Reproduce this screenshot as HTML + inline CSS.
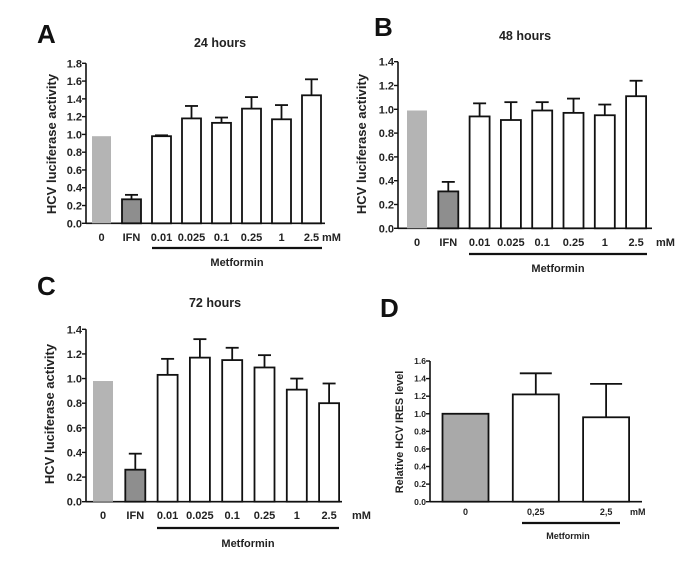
<!DOCTYPE html>
<html><head><meta charset="utf-8"><style>
html,body{margin:0;padding:0;background:#fff;}
svg{display:block;font-family:"Liberation Sans",Arial,sans-serif;}
</style></head><body>
<svg id="fig" width="691" height="562" viewBox="0 0 691 562"></svg>
<script>
// Panel A (24 hours)
const catsABC = ["0","IFN","0.01","0.025","0.1","0.25","1","2.5"];
const valsA = [0.98,0.27,0.98,1.18,1.13,1.29,1.17,1.44];
const errA  = [0,0.05,0.01,0.14,0.06,0.13,0.16,0.18];
const ticksA = ["0.0","0.2","0.4","0.6","0.8","1.0","1.2","1.4","1.6","1.8"];
// Panel B (48 hours)
const valsB = [0.99,0.31,0.94,0.91,0.99,0.97,0.95,1.11];
const errB  = [0,0.08,0.11,0.15,0.07,0.12,0.09,0.13];
const ticksB = ["0.0","0.2","0.4","0.6","0.8","1.0","1.2","1.4"];
// Panel C (72 hours)
const valsC = [0.98,0.26,1.03,1.17,1.15,1.09,0.91,0.80];
const errC  = [0,0.13,0.13,0.15,0.10,0.10,0.09,0.16];
const ticksC = ["0.0","0.2","0.4","0.6","0.8","1.0","1.2","1.4"];
// Panel D (IRES)
const catsD = ["0","0,25","2,5"];
const valsD = [1.0,1.22,0.96];
const errD  = [0,0.24,0.38];
const ticksD = ["0.0","0.2","0.4","0.6","0.8","1.0","1.2","1.4","1.6"];

const NS="http://www.w3.org/2000/svg";
const svg=document.getElementById('fig');
function mk(tag,attrs,parent,text){const e=document.createElementNS(NS,tag);for(const k in attrs)e.setAttribute(k,attrs[k]);if(text!==undefined)e.textContent=text;(parent||svg).appendChild(e);return e;}

function panel(o){
  const g=mk('g',{});
  
  
  const ymax=parseFloat(o.ticks[o.ticks.length-1]);
  const y=v=>o.y0-(v/ymax)*(o.y0-o.yTop);
  const x=i=>o.x0c+o.step*i;
  const L=mk('text',{x:o.letter[0],y:o.letter[1],'font-size':26,'font-weight':'bold',fill:'#111'},g,o.letterText);
  
  
  if(o.title){const t=mk('text',{x:o.title[0],y:o.title[1],'font-size':12.5,'font-weight':'bold','text-anchor':'middle',fill:'#222'},g,o.titleText);
    
    }
  const ya=mk('line',{x1:o.ax,y1:o.yTop,x2:o.ax,y2:o.y0,stroke:'#111','stroke-width':1.6},g);
  
  
  const xa=mk('line',{x1:o.ax,y1:o.y0,x2:o.axEnd,y2:o.y0,stroke:'#111','stroke-width':1.6},g);
  
  
  o.ticks.forEach(t=>{const v=parseFloat(t);const yy=y(v);
    mk('line',{x1:o.ax-4,y1:yy,x2:o.ax,y2:yy,stroke:'#111','stroke-width':1.4},g);
    const tl=mk('text',{x:o.ax-4,y:yy+o.tf*0.36,'font-size':o.tf,'font-weight':'bold','text-anchor':'end',fill:'#222'},g,t);
    
    
  });
  const yt=mk('text',{x:0,y:0,'font-size':o.yf,'font-weight':'bold','text-anchor':'middle',fill:'#222',transform:`translate(${o.ytx},${o.yty}) rotate(-90)`},g,o.ytitle);
  
  
  o.vals.forEach((v,i)=>{
    const cx=x(i),w=o.bw,top=y(v);
    let fill='#fff',stroke='#111';
    if(o.fills) {fill=o.fills[i];}
    if(o.noStroke && o.noStroke[i]) stroke='none';
    if(o.err[i]>0){
      const et=y(v+o.err[i]);
      mk('line',{x1:cx,y1:top,x2:cx,y2:et,stroke:'#111','stroke-width':1.8},g);
      mk('line',{x1:cx-o.cap/2,y1:et,x2:cx+o.cap/2,y2:et,stroke:'#111','stroke-width':1.8},g);
    }
    const r=mk('rect',{x:cx-w/2,y:top,width:w,height:o.y0-top,fill:fill,stroke:stroke,'stroke-width':stroke==='none'?0:1.8},g);
    
    
    const xl=mk('text',{x:cx,y:o.labY,'font-size':o.xf,'font-weight':'bold','text-anchor':'middle',fill:'#222'},g,o.cats[i]);
    
    
  });
  const mm=mk('text',{x:o.mmX,y:o.labY,'font-size':o.xf,'font-weight':'bold',fill:'#222'},g,'mM');
  
  
  const ln=mk('line',{x1:o.line[0],y1:o.line[2],x2:o.line[1],y2:o.line[2],stroke:'#111','stroke-width':2.2},g);
  
  
  const mt=mk('text',{x:o.met[0],y:o.met[1],'font-size':o.mf,'font-weight':'bold','text-anchor':'middle',fill:'#222'},g,'Metformin');
  
  
}
const fillsABC=['#b4b4b4','#8e8e8e','#fff','#fff','#fff','#fff','#fff','#fff'];
const nsABC=[true,false,false,false,false,false,false,false];
panel({id:'panel-a',letterText:'A',letter:[37,43],titleText:'24 hours',title:[220,47],
  ticks:ticksA,vals:valsA,err:errA,cats:catsABC,fills:fillsABC,noStroke:nsABC,
  ax:86,axEnd:325,y0:223.3,yTop:63.3,x0c:101.5,step:30,bw:19,cap:13,tf:11,xf:11,yf:13,
  ytx:56,yty:144,ytitle:'HCV luciferase activity',labY:241,mmX:322,line:[152,322,248],met:[237,266],mf:11});
panel({id:'panel-b',letterText:'B',letter:[374,36],titleText:'48 hours',title:[525,40],
  ticks:ticksB,vals:valsB,err:errB,cats:catsABC,fills:fillsABC,noStroke:nsABC,
  ax:398,axEnd:652,y0:228.3,yTop:61.7,x0c:417,step:31.3,bw:20,cap:13,tf:11,xf:11,yf:13,
  ytx:366,yty:144,ytitle:'HCV luciferase activity',labY:246,mmX:656,line:[469,647,254],met:[558,272],mf:11});
panel({id:'panel-c',letterText:'C',letter:[37,295],titleText:'72 hours',title:[215,307],
  ticks:ticksC,vals:valsC,err:errC,cats:catsABC,fills:fillsABC,noStroke:nsABC,
  ax:86,axEnd:342,y0:501.7,yTop:329.3,x0c:103,step:32.3,bw:20,cap:13,tf:11,xf:11,yf:13,
  ytx:54,yty:414,ytitle:'HCV luciferase activity',labY:519,mmX:352,line:[157,339,528],met:[248,547],mf:11});
panel({id:'panel-d',letterText:'D',letter:[380,317],titleText:'',title:null,
  ticks:ticksD,vals:valsD,err:errD,cats:catsD,fills:['#a9a9a9','#fff','#fff'],noStroke:null,
  ax:430,axEnd:642,y0:501.7,yTop:361,x0c:465.5,step:70.3,bw:46,cap:32,tf:8.5,xf:9,yf:10.8,
  ytx:403,yty:432,ytitle:'Relative HCV IRES level',labY:515,mmX:630,line:[522,620,523],met:[568,539],mf:9});
</script>
</body></html>
